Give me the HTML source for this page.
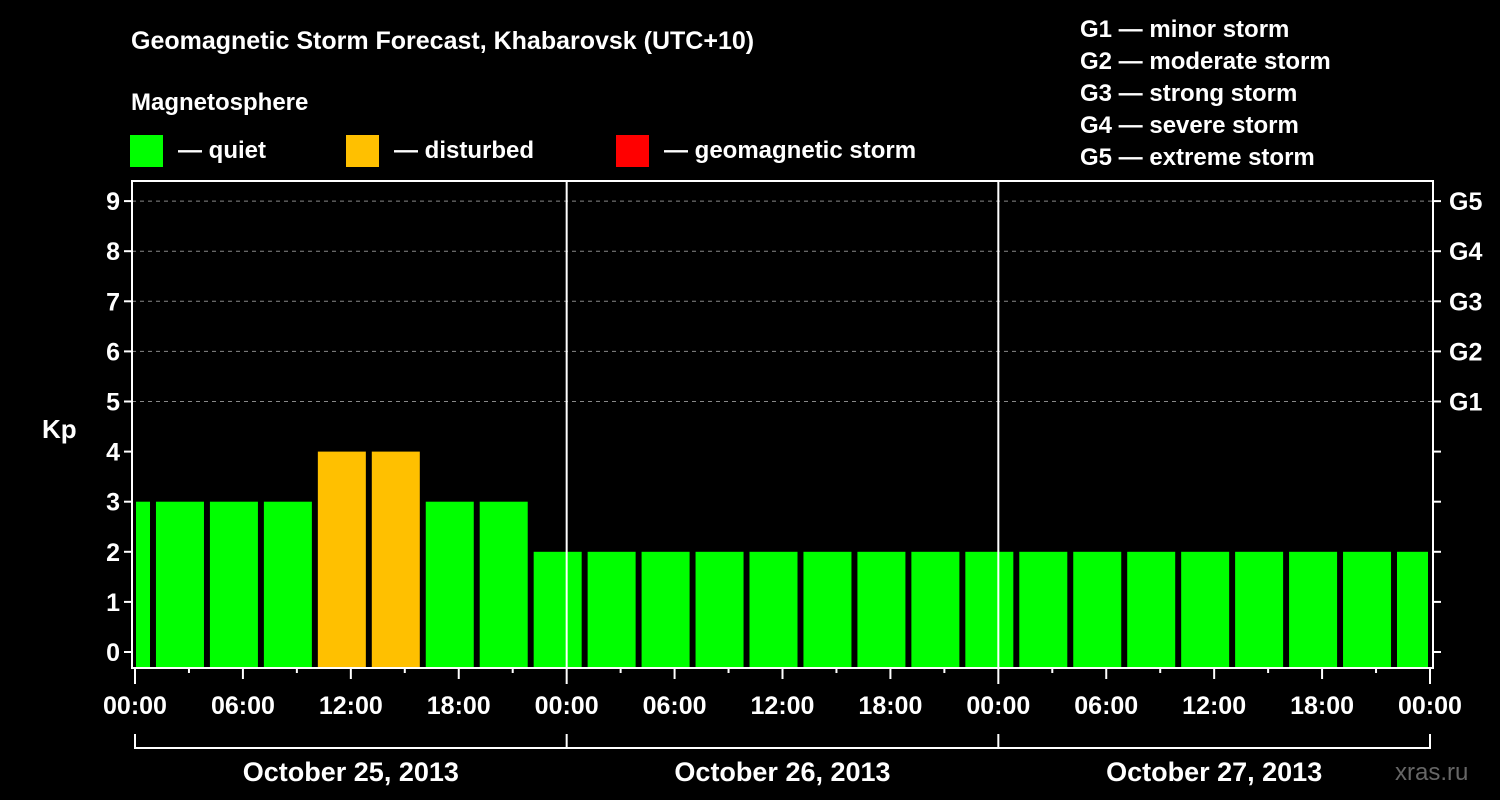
<!DOCTYPE html>
<html><head><meta charset="utf-8"><style>
html,body{margin:0;padding:0;background:#000;}
svg{display:block;font-family:"Liberation Sans",Arial,sans-serif;font-weight:bold;}
</style></head><body>
<svg id="chart" width="1500" height="800" viewBox="0 0 1500 800">
<rect x="0" y="0" width="1500" height="800" fill="#000"/>
<text x="131" y="49" fill="#fff" font-size="25">Geomagnetic Storm Forecast, Khabarovsk (UTC+10)</text>
<text x="131" y="110" fill="#fff" font-size="24">Magnetosphere</text>
<g><rect x="130" y="135" width="33" height="32" fill="#00ff00"/><text x="178" y="158" fill="#fff" font-size="24">— quiet</text></g>
<g><rect x="346" y="135" width="33" height="32" fill="#ffc000"/><text x="394" y="158" fill="#fff" font-size="24">— disturbed</text></g>
<g><rect x="616" y="135" width="33" height="32" fill="#ff0000"/><text x="664" y="158" fill="#fff" font-size="24">— geomagnetic storm</text></g>
<g fill="#fff" font-size="24">
<text x="1080" y="37">G1 — minor storm</text>
<text x="1080" y="69">G2 — moderate storm</text>
<text x="1080" y="101">G3 — strong storm</text>
<text x="1080" y="133">G4 — severe storm</text>
<text x="1080" y="165">G5 — extreme storm</text>
</g>
<g id="grid"></g>
<g id="bars"></g>
<g id="axes"></g>
<text x="42" y="438" fill="#fff" font-size="26">Kp</text>
<text x="1395" y="780" fill="#666" font-size="24" font-weight="normal">xras.ru</text>
</svg>
<script>
const kpValues = [3,3,3,3,4,4,3,3,2,2,2,2,2,2,2,2,2,2,2,2,2,2,2,2,2];
const yTicks = [0,1,2,3,4,5,6,7,8,9];
const gLabels = ["G1","G2","G3","G4","G5"];
const gLevels = [5,6,7,8,9];
const timeLabels = ["00:00","06:00","12:00","18:00","00:00","06:00","12:00","18:00","00:00","06:00","12:00","18:00","00:00"];
const dayLabels = ["October 25, 2013","October 26, 2013","October 27, 2013"];

const NS="http://www.w3.org/2000/svg";
const PL=132,PR=1433,PT=181,PB=668;
const X0=135,PXH=17.986;
const xh=h=>X0+h*PXH;
const yk=v=>652-v*50.1;
function mk(tag,attrs,parent){const e=document.createElementNS(NS,tag);for(const k in attrs)e.setAttribute(k,attrs[k]);parent.appendChild(e);return e;}
const grid=document.getElementById('grid'),bars=document.getElementById('bars'),axes=document.getElementById('axes');

gLevels.forEach(v=>{
  const l=mk('line',{x1:PL,x2:PR,y1:yk(v),y2:yk(v),stroke:'#888','stroke-width':1,'stroke-dasharray':'4,4'},grid);
  
  
});

kpValues.forEach((v,i)=>{
  const c=xh(3*i-0.5);
  let x1=Math.max(c-24,X0+1),x2=Math.min(c+24,xh(72)-2);
  const col=v>=5?'#ff0000':(v>=4?'#ffc000':'#00ff00');
  const r=mk('rect',{x:x1,y:yk(v),width:x2-x1,height:PB-yk(v),fill:col},bars);
  
  
});

// day separators
[1,2].forEach(d=>{
  const l=mk('line',{x1:xh(24*d),x2:xh(24*d),y1:PT,y2:PB,stroke:'#fff','stroke-width':2},axes);
  
  
});
const frame=mk('rect',{x:PL,y:PT,width:PR-PL,height:PB-PT,fill:'none',stroke:'#fff','stroke-width':2},axes);



yTicks.forEach(v=>{
  mk('line',{x1:PL-8,x2:PL,y1:yk(v),y2:yk(v),stroke:'#fff','stroke-width':2},axes);
  mk('line',{x1:PR,x2:PR+8,y1:yk(v),y2:yk(v),stroke:'#fff','stroke-width':2},axes);
  const t=mk('text',{x:PL-12,y:yk(v)+9,fill:'#fff','font-size':25,'text-anchor':'end'},axes);
  t.textContent=v;
  
  
});
gLabels.forEach((g,i)=>{
  const t=mk('text',{x:PR+16,y:yk(gLevels[i])+9,fill:'#fff','font-size':25},axes);
  t.textContent=g;
  
  
});

for(let h=0;h<=72;h+=3){
  const len=h%24===0?16:(h%6===0?11:5);
  mk('line',{x1:xh(h),x2:xh(h),y1:PB,y2:PB+len,stroke:'#fff','stroke-width':2},axes);
}
timeLabels.forEach((s,i)=>{
  const t=mk('text',{x:xh(i*6),y:714,fill:'#fff','font-size':25,'text-anchor':'middle'},axes);
  t.textContent=s;
  
  
});
mk('line',{x1:xh(0),x2:xh(72),y1:748,y2:748,stroke:'#fff','stroke-width':2},axes);
for(let d=0;d<=3;d++) mk('line',{x1:xh(24*d),x2:xh(24*d),y1:734,y2:749,stroke:'#fff','stroke-width':2},axes);
dayLabels.forEach((s,i)=>{
  const t=mk('text',{x:xh(24*i+12),y:781,fill:'#fff','font-size':27,'text-anchor':'middle'},axes);
  t.textContent=s;
  
  
});
</script>
</body></html>
